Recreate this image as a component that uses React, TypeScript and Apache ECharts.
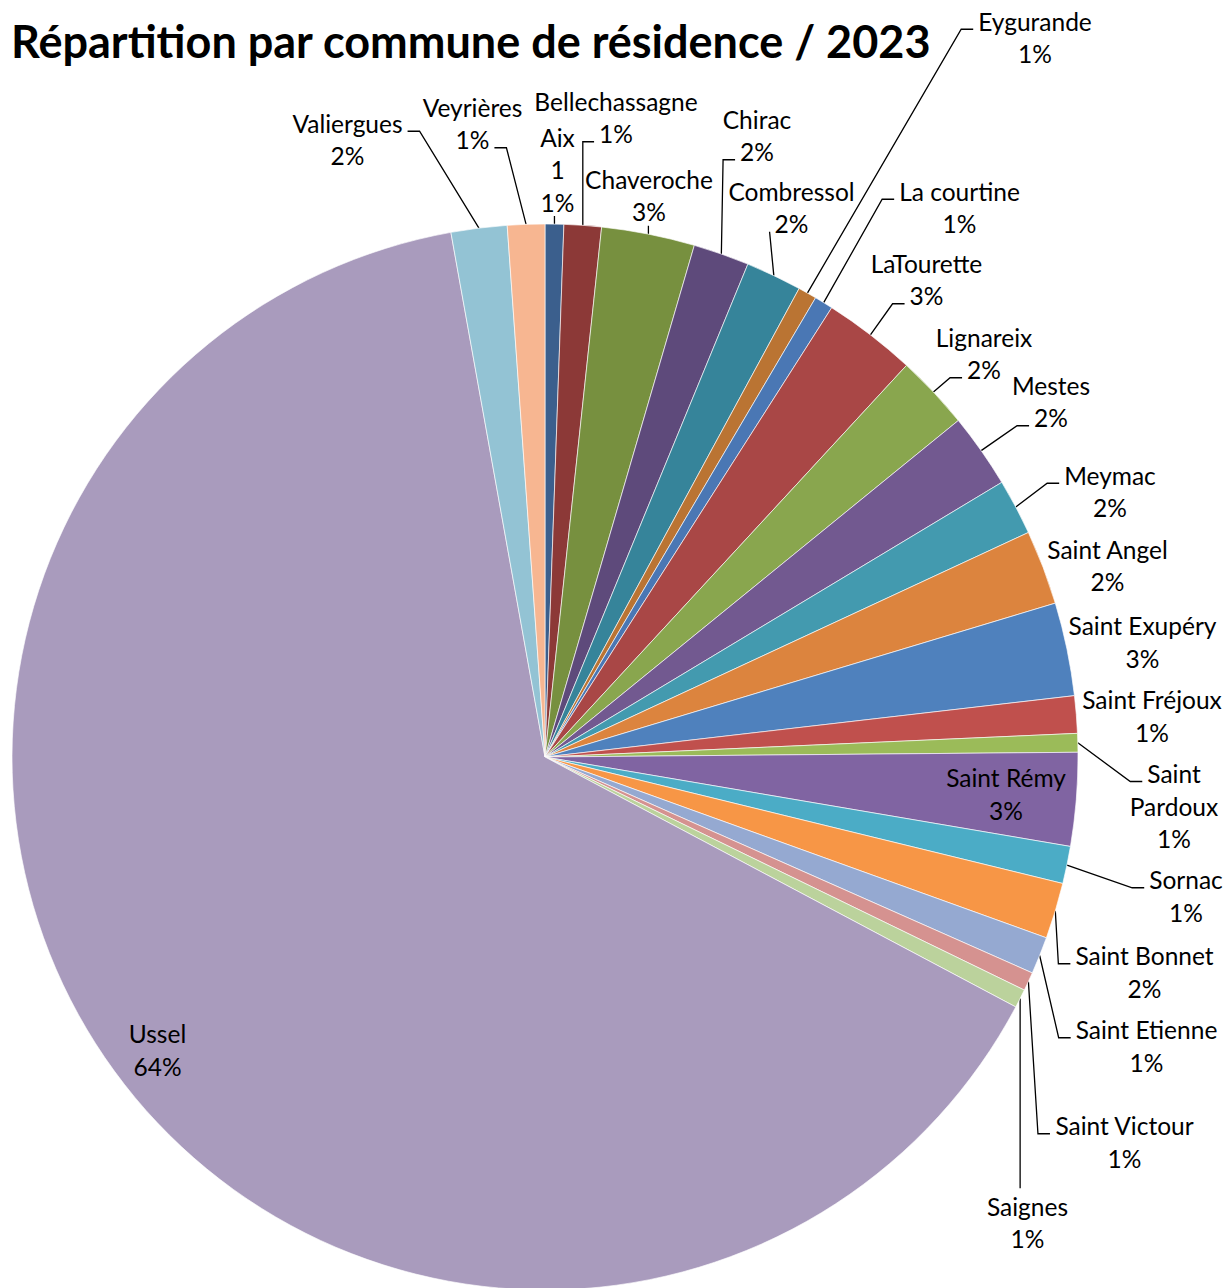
import React, { useEffect, useRef } from "react";
import * as echarts from "echarts";

// ---------- data ----------
const TITLE = "Répartition par commune de résidence / 2023";

const COMMUNES = [
  "Aix", "Bellechassagne", "Chaveroche", "Chirac", "Combressol", "Eygurande",
  "La courtine", "LaTourette", "Lignareix", "Mestes", "Meymac", "Saint Angel",
  "Saint Exupéry", "Saint Fréjoux", "Saint Pardoux", "Saint Rémy", "Sornac",
  "Saint Bonnet", "Saint Etienne", "Saint Victour", "Saignes", "Ussel",
  "Valiergues", "Veyrières",
];

const EFFECTIFS = [
  1, 2, 5, 3, 3, 1,
  1, 5, 4, 4, 3, 4,
  5, 2, 1, 5, 2,
  3, 2, 1, 1, 114,
  3, 2,
];

const COLORS = [
  "#3b5f8d", "#8c3937", "#77903f", "#5e4a7b", "#36849a", "#ba7433",
  "#4a77b4", "#a94746", "#89a64e", "#725990", "#439aaf", "#dc843e",
  "#4f81bd", "#c0504d", "#9bbb59", "#8064a2", "#4bacc6", "#f79646",
  "#95a9d1", "#d59290", "#bbd29c", "#a99bbd", "#93c3d4", "#f7b691",
];

// labels that also show the raw value, and labels wrapped on two lines
const SHOW_VALUE = ["Aix"];
const WRAPPED: Record<string, string> = { "Saint Pardoux": "Saint\nPardoux" };
const INSIDE = ["Saint Rémy", "Ussel"];
const NO_LEADER = ["Saint Angel", "Saint Exupéry", "Saint Fréjoux", "Saint Rémy", "Ussel"];

// ---------- layout (label placement, as moved by hand in the original) ----------
const LABEL_CENTERS: [number, number][] = [
  [557.5, 171.5], [616, 119.5], [649, 197.5], [757, 137.5], [791.5, 209.5], [1035, 39.5],
  [959.5, 209.5], [926.5, 281.5], [984, 355.5], [1051, 403.5], [1110, 493.5], [1107.5, 567.5],
  [1142.5, 644], [1152, 718], [1174, 808], [1006, 796], [1186, 898],
  [1144.5, 974], [1146.5, 1048], [1124.5, 1144], [1027.5, 1224.5], [157.5, 1052],
  [347.5, 141.5], [472.5, 125.5],
];
const LEADER = [
  "B", "L2", "B", "L2", "L2", "L1",
  "L1", "L2", "L2", "L2", "L1", "none",
  "none", "none", "L1", "none", "L1",
  "L1", "L1", "L1", "T", "none",
  "R1", "R2",
];

const FONT = "Lato";
const LABEL_SIZE = 24.5;
const LH = 32.5;
const LABEL_DY = -2;
const GAP = 5;
const BEND = 12;

const TOTAL = EFFECTIFS.reduce((a, b) => a + b, 0);

function labelText(i: number): string {
  const name = COMMUNES[i];
  const pct = Math.round((EFFECTIFS[i] / TOTAL) * 100) + "%";
  const shown = WRAPPED[name] || name;
  if (SHOW_VALUE.includes(name)) return `${shown}\n${EFFECTIFS[i]}\n${pct}`;
  return `${shown}\n${pct}`;
}

let measureCtx: CanvasRenderingContext2D | null = null;
function measure(s: string): number {
  if (!measureCtx) {
    const c = document.createElement("canvas");
    measureCtx = c.getContext("2d");
  }
  if (!measureCtx) return s.length * LABEL_SIZE * 0.5;
  measureCtx.font = `${LABEL_SIZE}px ${FONT}`;
  return measureCtx.measureText(s).width;
}

export default function App() {
  const ref = useRef<HTMLDivElement>(null);

  useEffect(() => {
    if (!ref.current) return;
    const chart = echarts.init(ref.current, undefined, { renderer: "svg" });

    const data = COMMUNES.map((name, i) => {
      const item: any = { name, value: EFFECTIFS[i], itemStyle: { color: COLORS[i] } };
      if (INSIDE.includes(name)) item.label = { position: "inside" };
      if (NO_LEADER.includes(name)) item.labelLine = { show: false };
      return item;
    });

    chart.setOption({
      animation: false,
      backgroundColor: "#ffffff",
      title: {
        text: TITLE,
        left: 6,
        top: 13,
        textStyle: { fontFamily: FONT, fontWeight: "bold", fontSize: 45, color: "#000" },
      },
      series: [
        {
          type: "pie",
          center: [545, 757],
          radius: 533,
          startAngle: 90,
          clockwise: true,
          avoidLabelOverlap: false,
          data,
          itemStyle: { borderColor: "rgba(255,255,255,0.8)", borderWidth: 0.8 },
          emphasis: { disabled: true },
          label: {
            show: true,
            position: "outside",
            formatter: (p: any) => labelText(p.dataIndex),
            fontFamily: FONT,
            fontSize: LABEL_SIZE,
            color: "#000",
            lineHeight: LH,
            width: 260,
            overflow: "none",
          },
          labelLine: { show: true, lineStyle: { color: "#000", width: 1.3 } },
          labelLayout: (params: any) => {
            const i = params.dataIndex;
            const cx = LABEL_CENTERS[i][0];
            const cy = LABEL_CENTERS[i][1] + LABEL_DY;
            const res: any = { x: cx, y: cy, align: "center", verticalAlign: "middle" };
            const pts = params.labelLinePoints;
            const mode = LEADER[i];
            if (pts && mode !== "none") {
              const e = [pts[0][0], pts[0][1]];
              const lines = labelText(i).split("\n");
              const n = lines.length;
              const lineY = (k: number) => cy + (k - (n - 1) / 2) * LH;
              let a: number[];
              let b: number[];
              if (mode === "B") {
                const y = lineY(n - 1) + 14;
                a = [e[0], y];
                b = [e[0], y];
              } else if (mode === "T") {
                const y = lineY(0) - 18;
                a = [e[0], y];
                b = [e[0], y];
              } else {
                const k = mode[1] === "1" ? 0 : n - 1;
                const w = measure(lines[k]);
                const y = lineY(k) + 8;
                if (mode[0] === "L") {
                  const ax = cx - w / 2 - GAP;
                  const bx = e[0] > ax - BEND ? Math.min(e[0], ax) : ax - BEND;
                  a = [ax, y];
                  b = [bx, y];
                } else {
                  const ax = cx + w / 2 + GAP;
                  const bx = e[0] < ax + BEND ? Math.max(e[0], ax) : ax + BEND;
                  a = [ax, y];
                  b = [bx, y];
                }
              }
              res.labelLinePoints = [e, b, a];
            }
            return res;
          },
        },
      ],
    });

    return () => chart.dispose();
  }, []);

  return (
    <div
      ref={ref}
      style={{ position: "absolute", left: 0, top: 0, width: 1227, height: 1288, background: "#fff" }}
    />
  );
}
